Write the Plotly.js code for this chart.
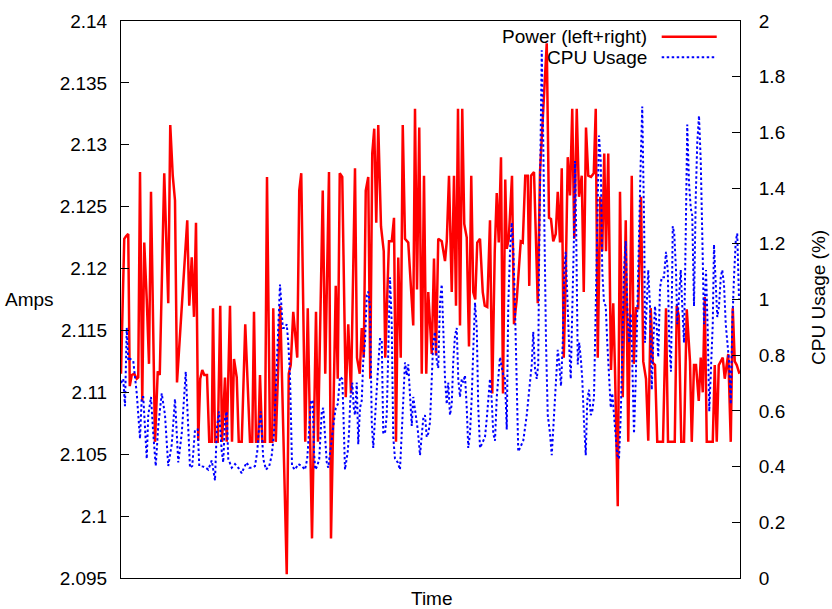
<!DOCTYPE html>
<html>
<head>
<meta charset="utf-8">
<script src="https://cdn.plot.ly/plotly-3.0.1.min.js"></script>
<style>html,body{margin:0;padding:0;background:#fff;}#chart{width:832px;height:609px;}</style>
</head>
<body>
<div id="chart"></div>
<script>
// ---- Data ----
const powerTime = [0,1.3,2.0,2.9,3.5,4.3,5.3,6.3,6.9,7.6,8.5,9.3,10.3,11.2,12.0,12.9,13.6,14.7,15.5,17.3,18.9,19.7,20.7,21.6,22.4,26.5,27.3,28.3,29.2,30.0,30.9,31.7,32.5,33.3,34.4,35.3,36.3,36.8,37.6,38.7,39.7,40.4,41.6,42.3,43.6,44.4,45.2,46.3,47.1,48.3,49.7,51.6,52.5,53.2,54.0,54.9,55.6,56.5,57.6,58.4,59.6,60.5,60.9,61.9,63.7,66.3,67.1,67.9,68.9,70.5,71.3,72.1,73.7,74.7,75.6,76.4,78.0,78.8,80.7,81.7,83.2,84.0,85.9,86.7,87.5,88.5,89.9,90.9,92.0,93.6,94.4,95.5,96.3,97.1,97.9,98.9,99.7,100.5,101.3,102.1,102.9,104.0,105.1,105.7,107.2,108.3,109.2,110.0,110.9,111.9,112.7,113.6,114.9,116.9,117.6,118.4,119.3,120.3,121.2,122.1,122.9,124.3,125.2,126.0,126.9,128.3,129.6,130.3,131.2,132.3,133.2,134.0,134.8,135.6,136.5,137.3,138.3,139.2,140.1,140.9,141.7,142.5,143.6,144.7,145.5,146.5,147.6,148.5,149.5,150.3,151.1,152.0,152.8,153.7,154.3,155.1,156.4,157.2,158.3,159.9,160.7,161.7,162.7,163.3,164.0,165.2,166.0,166.7,167.6,170.3,171.2,172.0,172.9,173.9,174.7,175.6,176.3,177.1,177.9,178.7,179.6,180.5,181.3,182.3,183.2,184.3,185.1,186.0,186.9,188.0,189.1,189.9,190.7,191.7,192.5,193.3,194.0,194.9,196.0,196.9,197.6,198.7,199.6,200.7,201.9,202.9,204.3,205.1,206.0,206.9,208.0,208.9,210.0,210.9,211.9,212.7,213.6,214.5,215.9,216.8,218.0,218.8,219.6,221.5,222.3,223.1,224.1,225.2,226.3,227.6,228.3,229.2,230.0,231.1,231.9,232.7,233.5,234.3,235.6,236.7,237.5,238.3,239.1,240.7,241.5,242.9,243.9,244.7,245.5,246.3,247.4];
const powerAmps = [2.1115,2.1224,2.1226,2.1228,2.1105,2.1114,2.1115,2.1111,2.1112,2.1278,2.1093,2.1221,2.1175,2.1123,2.1262,2.1140,2.1060,2.1117,2.1114,2.1277,2.1172,2.1316,2.1275,2.1255,2.1108,2.1239,2.1170,2.1209,2.1161,2.1237,2.1061,2.1111,2.1118,2.1114,2.1114,2.1060,2.1060,2.1168,2.1060,2.1060,2.1170,2.1060,2.1112,2.1060,2.1170,2.1060,2.1127,2.1112,2.1060,2.1060,2.1155,2.1060,2.1060,2.1165,2.1060,2.1060,2.1114,2.1060,2.1060,2.1274,2.1060,2.1060,2.1168,2.1060,2.1170,2.0953,2.1115,2.1122,2.1165,2.1128,2.1263,2.1277,2.1060,2.1168,2.1060,2.0982,2.1165,2.1060,2.1263,2.1115,2.1278,2.0982,2.1186,2.1111,2.1277,2.1274,2.1096,2.1155,2.1099,2.1281,2.1128,2.1115,2.1152,2.1128,2.1263,2.1274,2.1111,2.1293,2.1313,2.1237,2.1316,2.1234,2.1214,2.1128,2.1222,2.1222,2.1241,2.1060,2.1209,2.1128,2.1316,2.1224,2.1221,2.1154,2.1329,2.1183,2.1314,2.1115,2.1275,2.1115,2.1181,2.1131,2.1208,2.1130,2.1224,2.1222,2.1206,2.1222,2.1275,2.1181,2.1275,2.1170,2.1329,2.1154,2.1329,2.1236,2.1225,2.1137,2.1275,2.1181,2.1175,2.1221,2.1224,2.1181,2.1170,2.1169,2.1239,2.1099,2.1214,2.1261,2.1221,2.1290,2.1099,2.1272,2.1216,2.1224,2.1275,2.1155,2.1175,2.1222,2.1221,2.1275,2.1275,2.1186,2.1275,2.1278,2.1222,2.1172,2.1278,2.1382,2.1241,2.1240,2.1222,2.1228,2.1262,2.1221,2.1281,2.1128,2.1194,2.1290,2.1259,2.1329,2.1224,2.1329,2.1258,2.1275,2.1181,2.1314,2.1275,2.1274,2.1277,2.1329,2.1128,2.1258,2.1214,2.1293,2.1214,2.1293,2.1118,2.1172,2.1118,2.1008,2.1262,2.1096,2.1239,2.1060,2.1275,2.1123,2.1168,2.1168,2.1258,2.1125,2.1111,2.1061,2.1168,2.1124,2.1122,2.1060,2.1060,2.1060,2.1168,2.1060,2.1060,2.1060,2.1170,2.1162,2.1060,2.1060,2.1167,2.1125,2.1060,2.1122,2.1122,2.1093,2.1128,2.1100,2.1177,2.1060,2.1060,2.1060,2.1122,2.1060,2.1122,2.1128,2.1111,2.1131,2.1060,2.1168,2.1125,2.1122,2.1115];

const cpuTime = [0,0.9,1.6,2.3,2.9,3.6,4.9,5.6,6.3,7.6,8.3,8.9,10.3,10.9,12.0,12.9,13.9,14.9,16.3,17.6,18.9,20.3,21.6,22.9,24.3,25.9,26.7,27.6,28.5,29.6,30.7,31.3,32.9,33.9,34.9,36.3,37.6,38.3,39.2,40.3,40.9,41.6,42.3,42.9,44.3,45.6,46.9,48.3,49.2,50.3,51.3,52.4,53.6,54.5,55.3,55.9,56.9,58.0,59.3,60.3,61.2,62.0,62.9,63.6,64.0,64.7,65.6,66.3,66.9,67.6,68.0,68.4,69.6,70.9,72.3,73.6,74.5,75.3,76.0,76.7,77.2,77.7,78.5,79.3,80.3,80.9,81.6,82.3,82.9,83.6,84.5,85.3,85.9,86.7,87.6,88.5,88.9,89.3,89.6,90.7,91.2,91.7,92.5,93.1,93.6,94.3,94.9,95.6,96.3,96.9,97.6,98.3,98.9,99.6,100.3,100.9,101.6,102.3,102.9,103.6,104.3,104.9,105.6,106.3,106.9,107.6,108.3,108.9,109.6,110.7,111.6,112.3,112.9,113.6,114.3,114.9,115.6,116.3,116.9,117.6,118.7,119.6,120.3,120.9,121.6,122.3,122.9,123.6,124.3,124.9,125.6,126.3,126.9,127.6,128.3,128.9,129.6,130.3,130.9,131.6,132.3,132.9,133.6,134.3,134.9,135.6,136.3,136.9,137.6,138.3,138.9,139.6,140.3,140.9,141.6,142.3,142.9,143.6,144.3,144.9,145.6,146.3,146.9,147.6,148.3,148.9,149.6,150.3,151.6,152.3,152.9,153.6,154.3,154.9,155.6,156.3,156.9,157.6,158.3,158.9,159.6,160.9,162.3,162.9,163.6,164.3,164.9,165.6,166.3,166.9,167.2,167.7,168.3,168.8,169.3,170.0,170.7,171.6,172.3,172.9,173.9,174.7,175.2,176.0,176.7,177.3,177.9,178.5,179.2,179.9,180.5,181.2,181.6,182.1,182.7,183.3,184.0,184.5,185.2,185.9,186.5,187.2,187.9,188.5,189.2,189.9,190.5,191.2,191.9,192.5,193.2,193.9,194.5,195.2,195.9,196.5,197.2,197.9,198.5,199.2,199.9,200.5,201.2,201.9,202.5,203.2,203.9,204.5,205.2,205.9,206.5,207.2,207.9,208.5,208.9,209.3,209.6,210.3,210.9,211.6,212.3,212.9,213.6,214.3,214.9,215.6,216.3,217.2,218.0,218.7,219.3,220.0,220.7,221.3,222.0,222.5,223.2,223.9,224.5,225.2,225.9,226.5,227.2,227.9,228.5,229.2,229.9,230.5,231.2,231.9,232.5,233.2,234.0,234.7,235.3,236.0,236.7,237.2,237.9,238.5,239.2,239.9,240.5,241.2,241.9,242.5,243.2,243.9,244.5,245.2,245.9,246.5,247.2];
const cpuUsage = [0.700,0.715,0.617,0.898,0.780,0.787,0.780,0.715,0.663,0.500,0.650,0.650,0.428,0.585,0.650,0.519,0.402,0.546,0.663,0.585,0.402,0.480,0.643,0.415,0.519,0.741,0.585,0.396,0.402,0.533,0.533,0.402,0.400,0.396,0.389,0.422,0.350,0.533,0.598,0.454,0.415,0.572,0.598,0.428,0.396,0.409,0.396,0.376,0.396,0.415,0.396,0.396,0.402,0.454,0.546,0.598,0.428,0.389,0.402,0.441,0.519,0.715,0.884,1.054,1.002,0.898,0.898,0.911,0.845,0.728,0.572,0.402,0.389,0.409,0.402,0.389,0.428,0.559,0.637,0.637,0.454,0.389,0.402,0.428,0.598,0.611,0.500,0.415,0.396,0.454,0.519,0.572,0.611,0.624,0.722,0.715,0.611,0.493,0.389,0.454,0.519,0.637,0.702,0.611,0.585,0.702,0.480,0.611,0.637,0.780,0.845,1.015,1.028,0.976,0.559,0.467,0.585,0.715,0.767,0.858,0.858,0.519,0.519,0.585,0.780,1.080,0.911,0.506,0.428,0.415,0.389,0.506,0.637,0.774,0.728,0.767,0.650,0.546,0.650,0.611,0.533,0.441,0.506,0.572,0.585,0.506,0.519,0.559,0.715,0.850,0.884,0.780,0.754,0.989,1.054,0.911,0.715,0.624,0.702,0.585,0.624,0.780,0.871,0.898,0.715,0.650,0.715,0.702,0.728,0.611,0.467,0.519,0.650,0.819,0.989,0.898,0.611,0.467,0.480,0.493,0.506,0.572,0.650,0.715,0.637,0.519,0.493,0.650,0.793,0.754,0.728,0.715,0.533,0.976,1.171,1.276,1.184,0.976,0.715,0.454,0.467,0.493,0.585,0.637,0.715,0.767,0.884,0.750,0.715,0.767,1.106,1.497,1.895,1.628,1.237,0.845,0.585,0.519,0.441,0.546,0.715,0.819,0.780,0.689,0.845,1.106,1.171,0.976,0.845,0.715,0.911,1.237,1.497,1.237,0.767,0.845,0.780,0.715,0.559,0.441,0.637,0.676,0.585,0.598,0.650,0.976,1.237,1.589,1.497,1.106,0.989,0.976,0.845,0.715,0.611,0.663,0.585,0.519,0.441,0.428,0.585,0.806,1.106,1.210,0.976,0.845,0.950,0.780,0.519,0.715,0.976,1.302,1.497,1.693,1.497,1.237,0.845,1.002,1.106,0.976,0.676,0.845,0.976,0.898,0.793,1.041,1.080,1.080,1.171,1.106,0.845,0.741,1.263,1.237,1.106,0.911,1.002,1.106,0.976,0.845,1.237,1.628,1.419,1.328,1.302,0.976,1.367,1.563,1.660,1.497,1.237,0.911,1.106,0.884,0.598,0.780,0.911,1.197,1.041,0.937,0.976,1.080,1.106,1.054,0.911,0.845,0.780,0.624,0.911,1.080,1.210,1.237,1.002];

const ampsTickVals = [2.095,2.1,2.105,2.11,2.115,2.12,2.125,2.13,2.135,2.14];
const ampsTickText = ["2.095","2.1","2.105","2.11","2.115","2.12","2.125","2.13","2.135","2.14"];
const cpuTickVals = [0,0.2,0.4,0.6,0.8,1,1.2,1.4,1.6,1.8,2];
const cpuTickText = ["0","0.2","0.4","0.6","0.8","1","1.2","1.4","1.6","1.8","2"];
const seriesNames = ["Power (left+right)", "CPU Usage"];

// ---- Plot ----
const FONT = "Liberation Sans, Arial, sans-serif";
const FS = 19;
const traces = [
  {x: powerTime, y: powerAmps, type: 'scatter', mode: 'lines', name: seriesNames[0],
   line: {color: '#ff0000', width: 2.5}, yaxis: 'y', showlegend: false},
  {x: cpuTime, y: cpuUsage, type: 'scatter', mode: 'lines', name: seriesNames[1],
   line: {color: '#0000ff', width: 2, dash: '2.5px,2.5px'}, yaxis: 'y2', showlegend: false}
];

const layout = {
  width: 832, height: 609,
  margin: {l: 121, r: 92, t: 21, b: 31, pad: 0},
  paper_bgcolor: '#fff', plot_bgcolor: '#fff',
  font: {family: FONT, size: FS, color: '#000'},
  showlegend: false,
  xaxis: {range: [0, 247.6], showgrid: false, zeroline: false, showticklabels: false,
          ticks: '', showline: true, mirror: true, linecolor: '#000', linewidth: 1, fixedrange: true},
  yaxis: {range: [2.095, 2.14], tickvals: ampsTickVals, ticktext: ampsTickText,
          ticks: 'inside', ticklen: 8, tickwidth: 1, tickcolor: '#000',
          showgrid: false, zeroline: false, showline: true, linecolor: '#000', linewidth: 1,
          ticklabelstandoff: 9, tickfont: {family: FONT, size: FS, color: '#000'}, automargin: false},
  yaxis2: {range: [0, 2], overlaying: 'y', side: 'right', tickvals: cpuTickVals, ticktext: cpuTickText,
           ticks: 'inside', ticklen: 8, tickwidth: 1, tickcolor: '#000',
           showgrid: false, zeroline: false, showline: true, linecolor: '#000', linewidth: 1,
           ticklabelstandoff: 14, tickfont: {family: FONT, size: FS, color: '#000'}, automargin: false},
  annotations: [
    {text: 'Amps', xref: 'paper', yref: 'paper', x: -0.1486, y: 0.5, xanchor: 'center', yanchor: 'middle',
     showarrow: false, font: {family: FONT, size: FS, color: '#000'}},
    {text: 'CPU Usage (%)', xref: 'paper', yref: 'paper', x: 1.1276, y: 0.5045, xanchor: 'center', yanchor: 'middle',
     textangle: -90, showarrow: false, font: {family: FONT, size: FS, color: '#000'}},
    {text: 'Time', xref: 'paper', yref: 'paper', x: 0.5024, y: -0.0365, xanchor: 'center', yanchor: 'middle',
     showarrow: false, font: {family: FONT, size: FS, color: '#000'}},
    {text: seriesNames[0], xref: 'paper', yref: 'paper', x: 0.8530, y: 0.9718, xanchor: 'right', yanchor: 'middle',
     showarrow: false, font: {family: FONT, size: FS, color: '#000'}},
    {text: seriesNames[1], xref: 'paper', yref: 'paper', x: 0.8530, y: 0.9348, xanchor: 'right', yanchor: 'middle',
     showarrow: false, font: {family: FONT, size: FS, color: '#000'}}
  ],
  shapes: [
    {type: 'line', xref: 'paper', yref: 'paper', x0: 0.8735, x1: 0.9624, y0: 0.9718, y1: 0.9718,
     line: {color: '#ff0000', width: 2.5}},
    {type: 'line', xref: 'paper', yref: 'paper', x0: 0.8735, x1: 0.9624, y0: 0.9348, y1: 0.9348,
     line: {color: '#0000ff', width: 2, dash: '2.5px,2.5px'}}
  ]
};

Plotly.newPlot('chart', traces, layout, {staticPlot: true, displayModeBar: false});
</script>
</body>
</html>
